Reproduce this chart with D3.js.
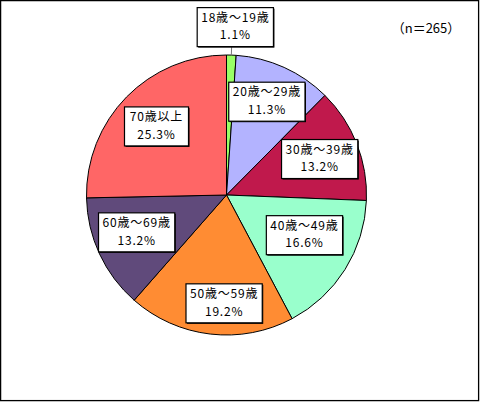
<!DOCTYPE html>
<html>
<head>
<meta charset="utf-8">
<script src="https://cdn.jsdelivr.net/npm/d3@7"></script>
<style>
  body { margin: 0; background: #fff; }
  text { font-family: "Noto Sans CJK JP", "Noto Sans", sans-serif; }
</style>
</head>
<body>
<script>
// chart data
var ageGroups = ["18歳～19歳", "20歳～29歳", "30歳～39歳", "40歳～49歳", "50歳～59歳", "60歳～69歳", "70歳以上"];
var percents = [1.1, 11.3, 13.2, 16.6, 19.2, 13.2, 25.3];
var sliceColors = ["#99ff66", "#b3b3ff", "#c0194c", "#99ffcc", "#ff8c33", "#604a7b", "#ff6666"];
var sampleNote = "（n＝265）";

var svgWidth = 480;
var svgHeight = 402;

var cx = 226.5, cy = 195, radius = 140;
var labelRadius = 98;

// manual nudges like the hand-placed labels in the original
var nudge = {
  "20歳～29歳": [0, -4],
  "30歳～39歳": [2, 0],
  "40歳～49歳": [-5, -12],
  "50歳～59歳": [9, 11],
  "60歳～69歳": [-1, -4],
  "70歳以上": [0, 0]
};

var svg = d3.select("body")
  .append("svg")
  .attr("width", svgWidth)
  .attr("height", svgHeight);

// outer frame
svg.append("rect")
  .attr("x", 0.6)
  .attr("y", 0.6)
  .attr("width", 478)
  .attr("height", 400)
  .attr("fill", "#fff")
  .attr("stroke", "#000")
  .attr("stroke-width", 1.3);

var data = ageGroups.map((g, i) => ({ group: g, value: percents[i], color: sliceColors[i] }));

var pie = d3.pie()
  .sort(null)
  .value(d => d.value);

var arc = d3.arc()
  .innerRadius(0)
  .outerRadius(radius);

var labelArc = d3.arc()
  .innerRadius(labelRadius)
  .outerRadius(labelRadius);

var arcs = pie(data);

var pieGroup = svg.append("g")
  .attr("transform", `translate(${cx}, ${cy})`);

pieGroup.selectAll("path")
  .data(arcs)
  .enter()
  .append("path")
  .attr("d", arc)
  .attr("fill", d => d.data.color)
  .attr("stroke", "#000")
  .attr("stroke-width", 1);

// label positions
arcs.forEach(function(d) {
  var mid = (d.startAngle + d.endAngle) / 2;
  if (d.index === 0) {
    // small slice: label outside with leader line
    var r1 = radius, r2 = radius + 8, r3 = 168;
    pieGroup.append("line")
      .attr("x1", Math.sin(mid) * r1)
      .attr("y1", -Math.cos(mid) * r1)
      .attr("x2", Math.sin(mid) * r2)
      .attr("y2", -Math.cos(mid) * r2)
      .attr("stroke", "#777")
      .attr("stroke-width", 1);
    d.lx = Math.sin(mid) * r3 + 3;
    d.ly = -Math.cos(mid) * r3;
  } else {
    var c = labelArc.centroid(d);
    var n = nudge[d.data.group] || [0, 0];
    d.lx = c[0] + n[0];
    d.ly = c[1] + n[1];
  }
});

var labels = pieGroup.selectAll(".lbl")
  .data(arcs)
  .enter()
  .append("g")
  .attr("class", "lbl")
  .attr("transform", d => `translate(${d.lx}, ${d.ly})`);

labels.append("rect").attr("class", "shadow");
labels.append("rect").attr("class", "box");

labels.append("text")
  .attr("class", "l1")
  .attr("text-anchor", "middle")
  .attr("y", -5.5)
  .attr("font-size", "12px")
  .attr("letter-spacing", "0.8px")
  .attr("fill", "#000")
  .text(d => d.data.group);

labels.append("text")
  .attr("text-anchor", "middle")
  .attr("y", 12.2)
  .attr("font-size", "12px")
  .attr("letter-spacing", "0.8px")
  .attr("fill", "#000")
  .text(d => d.data.value.toFixed(1) + "%");

labels.each(function() {
  var g = d3.select(this);
  var w = Math.max(g.select(".l1").node().getComputedTextLength() + 8, 64);
  var h = 39;
  g.select(".shadow")
    .attr("x", -w / 2 + 1).attr("y", -h / 2 + 1)
    .attr("width", w).attr("height", h)
    .attr("fill", "#000");
  g.select(".box")
    .attr("x", -w / 2).attr("y", -h / 2)
    .attr("width", w).attr("height", h)
    .attr("fill", "#fff")
    .attr("stroke", "#000")
    .attr("stroke-width", 1.2);
});

// sample size note
svg.append("text")
  .attr("x", 426)
  .attr("y", 33)
  .attr("text-anchor", "middle")
  .attr("font-size", "13px")
  .attr("fill", "#000")
  .text(sampleNote);
</script>
</body>
</html>
